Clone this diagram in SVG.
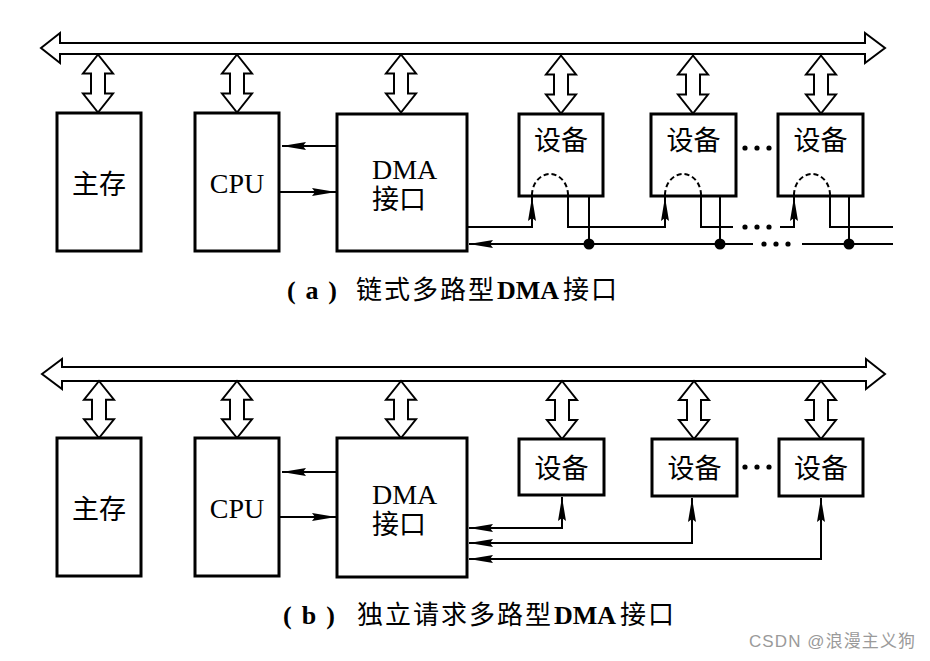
<svg xmlns="http://www.w3.org/2000/svg" width="930" height="661" viewBox="0 0 930 661">
<style>
.box{fill:#fff;stroke:#000;stroke-width:3}
.bus{fill:#fff;stroke:#000;stroke-width:2;stroke-linejoin:miter}
.dbl{fill:#fff;stroke:#000;stroke-width:2}
.ln{fill:none;stroke:#000;stroke-width:2}
.arc{fill:none;stroke:#000;stroke-width:2;stroke-dasharray:5 3}
.cjk{font-family:"Liberation Serif","Noto Sans CJK SC",serif;font-size:27px;fill:#000}
.lat{font-family:"Liberation Serif","Noto Sans CJK SC",serif;font-size:28px;fill:#000}
.cap{font-family:"Liberation Serif","Noto Sans CJK SC",serif;font-size:26px;fill:#000}
.wm{font-family:"Liberation Sans","Noto Sans CJK SC",sans-serif;font-size:17px;fill:#9a9a9a}
</style>
<defs>
<marker id="ah" markerUnits="userSpaceOnUse" markerWidth="26" markerHeight="10" refX="24" refY="5" orient="auto-start-reverse">
<path d="M0,1 L24,5 L0,9 L3,5 z" fill="#000"/>
</marker>
<path id="dbl" d="M0,0 L15,19 L7,19 L7,39 L15,39 L0,58 L-15,39 L-7,39 L-7,19 L-15,19 z"/>
</defs>
<rect width="930" height="661" fill="#fff"/>

<!-- ===== (a) ===== -->
<g id="bus-a">
<polygon class="bus" points="41,48 60,33 60,43 865,43 865,33 885,48 865,63 865,54 60,54 60,63"/>
</g>
<g id="dbl-a">
<use href="#dbl" class="dbl" transform="translate(98,54.5)"/>
<use href="#dbl" class="dbl" transform="translate(237,54.5)"/>
<use href="#dbl" class="dbl" transform="translate(401,54.5)"/>
<use href="#dbl" class="dbl" transform="translate(561,55.5)"/>
<use href="#dbl" class="dbl" transform="translate(693,55.5)"/>
<use href="#dbl" class="dbl" transform="translate(821,55.5)"/>
</g>
<g id="mem-a"><rect class="box" x="57" y="113" width="84" height="138"/><text class="cjk" x="99" y="194" text-anchor="middle">主存</text></g>
<g id="cpu-a"><rect class="box" x="195" y="113" width="84" height="138"/><text class="lat" x="237" y="193" text-anchor="middle">CPU</text></g>
<g id="dma-a"><rect class="box" x="337" y="114" width="130" height="137"/><text class="lat" x="372" y="179">DMA</text><text class="cjk" x="372" y="209">接口</text></g>
<g id="dev1-a"><rect class="box" x="519" y="114" width="84" height="82"/><text class="cjk" x="561" y="150" text-anchor="middle">设备</text></g>
<g id="dev2-a"><rect class="box" x="651" y="114" width="85" height="82"/><text class="cjk" x="693.5" y="150" text-anchor="middle">设备</text></g>
<g id="dev3-a"><rect class="box" x="778" y="114" width="85" height="82"/><text class="cjk" x="820.5" y="150" text-anchor="middle">设备</text></g>
<g id="dots-a"><circle cx="745" cy="148" r="2.6"/><circle cx="757" cy="148" r="2.6"/><circle cx="769" cy="148" r="2.6"/></g>

<g id="connectors-a">
<path class="ln" d="M337,146 H282" marker-end="url(#ah)"/>
<path class="ln" d="M279,192 H336" marker-end="url(#ah)"/>
<path class="arc" d="M532,195 A18,21 0 0 1 568,195"/>
<path class="arc" d="M665,195 A18,21 0 0 1 701,195"/>
<path class="arc" d="M794,195 A18,21 0 0 1 830,195"/>
<path class="ln" d="M467,227 H532 V197" marker-end="url(#ah)"/>
<path class="ln" d="M568,196 V227 H665 V197" marker-end="url(#ah)"/>
<path class="ln" d="M701,196 V227 H733"/>
<circle cx="745" cy="227" r="2.6"/><circle cx="757" cy="227" r="2.6"/><circle cx="769" cy="227" r="2.6"/>
<path class="ln" d="M780,227 H794 V197" marker-end="url(#ah)"/>
<path class="ln" d="M830,196 V227 H893"/>
<path class="ln" d="M589,196 V244"/>
<path class="ln" d="M720,196 V244"/>
<path class="ln" d="M849,196 V244"/>
<path class="ln" d="M753,244 H469" marker-end="url(#ah)"/>
<circle cx="764" cy="244" r="2.6"/><circle cx="776" cy="244" r="2.6"/><circle cx="788" cy="244" r="2.6"/>
<path class="ln" d="M802,244 H893"/>
<circle cx="589" cy="244" r="5.5"/><circle cx="720" cy="244" r="5.5"/><circle cx="849" cy="244" r="5.5"/>
</g>
<g id="caption-a">
<text class="cap" x="287" y="299" font-weight="bold" textLength="50" lengthAdjust="spacing">(a)</text>
<text class="cap" y="299"><tspan x="356" letter-spacing="2">链式多路型</tspan><tspan x="497" font-weight="bold">DMA</tspan><tspan x="563" letter-spacing="2">接口</tspan></text>
</g>

<!-- ===== (b) ===== -->
<g id="bus-b">
<polygon class="bus" points="42,374 62,359 62,367 866,367 866,359 885,374 866,389 866,381 62,381 62,389"/>
</g>
<g id="dbl-b">
<use href="#dbl" class="dbl" transform="translate(99,381) scale(1,0.983)"/>
<use href="#dbl" class="dbl" transform="translate(237,381) scale(1,0.983)"/>
<use href="#dbl" class="dbl" transform="translate(401,381) scale(1,0.983)"/>
<use href="#dbl" class="dbl" transform="translate(562,381)"/>
<use href="#dbl" class="dbl" transform="translate(694,381)"/>
<use href="#dbl" class="dbl" transform="translate(821,381)"/>
</g>
<g id="mem-b"><rect class="box" x="57" y="438" width="84" height="138"/><text class="cjk" x="99" y="519" text-anchor="middle">主存</text></g>
<g id="cpu-b"><rect class="box" x="195" y="438" width="84" height="138"/><text class="lat" x="237" y="518" text-anchor="middle">CPU</text></g>
<g id="dma-b"><rect class="box" x="337" y="438" width="130" height="139"/><text class="lat" x="372" y="504">DMA</text><text class="cjk" x="372" y="534">接口</text></g>
<g id="dev1-b"><rect class="box" x="519" y="439" width="85" height="56"/><text class="cjk" x="561.5" y="478" text-anchor="middle">设备</text></g>
<g id="dev2-b"><rect class="box" x="652" y="439" width="85" height="57"/><text class="cjk" x="694.5" y="478" text-anchor="middle">设备</text></g>
<g id="dev3-b"><rect class="box" x="779" y="439" width="84" height="57"/><text class="cjk" x="821" y="478" text-anchor="middle">设备</text></g>
<g id="dots-b"><circle cx="745" cy="467" r="2.6"/><circle cx="757" cy="467" r="2.6"/><circle cx="769" cy="467" r="2.6"/></g>

<g id="connectors-b">
<path class="ln" d="M337,472 H282" marker-end="url(#ah)"/>
<path class="ln" d="M279,517 H336" marker-end="url(#ah)"/>
<path class="ln" d="M562,497 V528 H469" marker-start="url(#ah)" marker-end="url(#ah)"/>
<path class="ln" d="M692,498 V543 H469" marker-start="url(#ah)" marker-end="url(#ah)"/>
<path class="ln" d="M821,498 V559 H469" marker-start="url(#ah)" marker-end="url(#ah)"/>
</g>
<g id="caption-b">
<text class="cap" x="283" y="624" font-weight="bold" textLength="52" lengthAdjust="spacing">(b)</text>
<text class="cap" y="624"><tspan x="357" letter-spacing="2">独立请求多路型</tspan><tspan x="554" font-weight="bold">DMA</tspan><tspan x="620" letter-spacing="2">接口</tspan></text>
</g>
<text class="wm" x="749" y="647" textLength="166" lengthAdjust="spacing">CSDN @浪漫主义狗</text>
</svg>
